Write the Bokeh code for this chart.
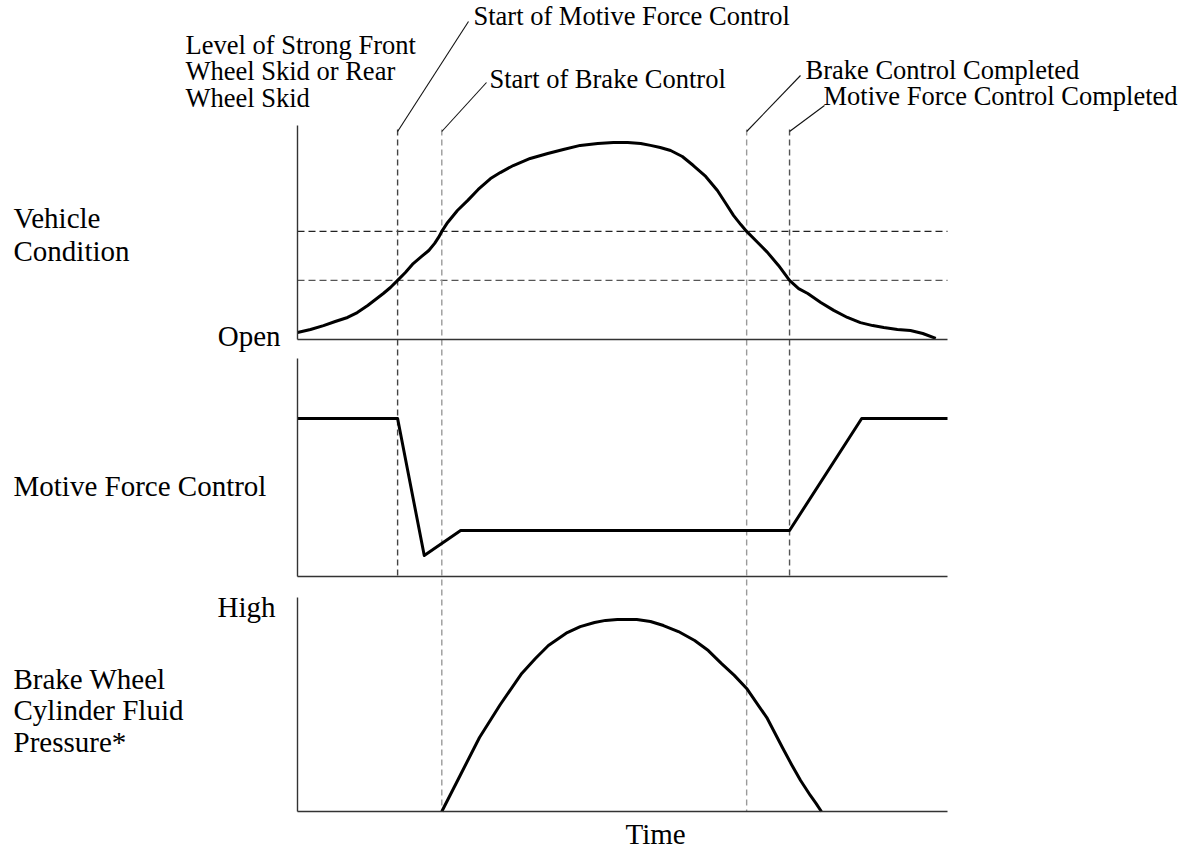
from bokeh.plotting import figure
from bokeh.models import Range1d, LinearAxis
from bokeh.core.properties import value
from bokeh.embed import file_html
from bokeh.resources import INLINE

# ---------------- data (time in % of the time axis, level in % of panel height) -------------
cond_t = [0, 2.0, 4.0, 5.8, 7.7, 9.2, 10.8, 12.0, 13.2, 14.3, 15.4, 16.6, 17.8, 19.1, 20.2,
          21.1, 21.7, 22.2, 23.1, 24.6, 26.2, 27.8, 29.7, 31.2, 33.2, 35.8, 38.5, 40.9,
          43.5, 46.2, 48.6, 50.8, 52.8, 54.3, 55.8, 57.4, 59.2, 60.9, 62.8, 64.6, 65.8,
          67.1, 68.2, 69.1, 70.8, 72.3, 74.0, 75.7, 77.1, 78.5, 80.5, 82.5, 84.6, 86.6,
          88.5, 90.2, 92.3, 94.3, 96.2, 98.2]
cond_level = [3.3, 4.7, 6.5, 8.4, 10.3, 12.6, 15.9, 18.7, 21.5, 24.3, 27.6, 31.3, 35.5,
              38.8, 41.6, 44.9, 47.7, 50.5, 54.7, 60.3, 65.0, 70.1, 75.2, 78.0, 81.3,
              84.6, 86.9, 88.8, 90.7, 91.6, 92.1, 92.1, 91.6, 90.7, 89.7, 88.3, 85.5,
              81.3, 76.2, 69.6, 64.0, 57.9, 53.7, 50.5, 45.3, 40.7, 34.6, 27.6, 23.8,
              21.5, 17.3, 13.6, 10.3, 7.9, 6.5, 5.6, 4.7, 4.2, 2.8, 0.5]
cond_thresholds = [50.5, 27.6]

mf_t = [0, 15.4, 19.5, 25.1, 75.7, 86.8, 100]
mf_level = [72.5, 72.5, 9.6, 21.1, 21.1, 72.5, 72.5]

bp_t = [22.2, 25.1, 28.0, 31.2, 34.5, 36.6, 38.6, 41.5, 43.5, 45.7, 47.4, 49.2, 50.8,
        52.2, 54.3, 56.3, 58.6, 61.1, 63.2, 65.2, 67.2, 69.1, 70.6, 72.2, 73.4, 74.6,
        76.0, 77.4, 78.9, 79.8, 80.6]
bp_level = [0, 17.3, 34.6, 50.0, 64.5, 71.5, 77.6, 83.6, 86.4, 88.3, 89.3, 89.7, 89.7,
            89.7, 88.8, 86.9, 84.1, 79.9, 75.2, 69.2, 63.6, 57.5, 50.9, 43.9, 36.9, 29.9,
            22.0, 14.5, 7.5, 3.7, 0]

event_t = [15.4, 22.2, 69.1, 75.7]
event_names = ["Start of Motive Force Control", "Start of Brake Control",
               "Brake Control Completed", "Motive Force Control Completed"]
skid_label = ["Level of Strong Front", "Wheel Skid or Rear", "Wheel Skid"]
panel_labels = [["Vehicle", "Condition"], ["Motive Force Control"],
                ["Brake Wheel", "Cylinder Fluid", "Pressure*"]]
low_label, high_label, time_label = "Open", "High", "Time"

# ---------------- layout (picture pixels) ----------------
W, H, M = 1185, 848, 0
PX0, PX1 = 297, 947
sx = (PX1 - PX0) / 100.0
panels = [(339, 125), (576, 358), (811, 597)]   # (bottom, top) picture y
FONT = value("Liberation Serif")

def yr(bottom, top):
    sy = (bottom - top) / 100.0
    return Range1d(start=(bottom - (M + H)) / sy, end=(bottom - M) / sy)

p = figure(width=W, height=H, output_backend="svg", toolbar_location=None,
           x_axis_type=None, y_axis_type=None, min_border=0,
           x_range=Range1d((M - PX0) / sx, (M + W - PX0) / sx),
           y_range=yr(*panels[0]))
p.outline_line_color = None
p.extra_y_ranges = {"p2": yr(*panels[1]), "p3": yr(*panels[2]),
                    "px": Range1d(M + H, M)}
p.extra_x_ranges = {"px": Range1d(M, M + W)}
names = ["default", "p2", "p3"]

for nm in names:
    for side in ("left", "below"):
        ax = LinearAxis(y_range_name=nm, fixed_location=0, bounds=(0, 100))
        ax.major_tick_line_color = None
        ax.minor_tick_line_color = None
        ax.major_label_text_color = None
        ax.major_label_text_font_size = "0px"
        ax.axis_line_color = "#333333"
        ax.axis_line_width = 1.4
        p.add_layout(ax, side)

# threshold dashed lines (panel 1)
p.segment(x0=0, x1=100, y0=cond_thresholds[0], y1=cond_thresholds[0],
          line_color="#222222", line_width=1.2, line_dash="7 4")
p.segment(x0=0, x1=100, y0=cond_thresholds[1], y1=cond_thresholds[1],
          line_color="#555555", line_width=1.2, line_dash="7 4")

# vertical event lines
ev_top = 129
ev_bottom = [panels[1][0], panels[2][0], panels[2][0], panels[1][0]]
ev_color = ["#444444", "#9a9a9a", "#9a9a9a", "#555555"]
for t, b, c in zip(event_t, ev_bottom, ev_color):
    p.segment(x0=t, x1=t, y0=ev_top, y1=b, y_range_name="px",
              line_color=c, line_width=1.4, line_dash="6 4")

# leader lines
lead_end = [(468, 21), (486, 82), (800, 75), (824, 105)]
for t, (ex, ey) in zip(event_t, lead_end):
    p.segment(x0=PX0 + t * sx, y0=131, x1=ex, y1=ey, x_range_name="px",
              y_range_name="px", line_color="#111111", line_width=1.1)

# curves
p.line(cond_t, cond_level, line_color="black", line_width=3, line_join="round")
p.line(mf_t, mf_level, y_range_name="p2", line_color="black", line_width=3,
       line_join="round")
p.line(bp_t, bp_level, y_range_name="p3", line_color="black", line_width=3,
       line_join="round")

def txt(x, y, s, size, align="left"):
    p.text(x=[x], y=[y], text=[s], x_range_name="px", y_range_name="px",
           text_font=FONT, text_font_size=size, text_color="black",
           text_align=align, text_baseline="alphabetic")

# event labels
ev_pos = [(473, 15), (489, 78), (805, 69), (823, 95)]
for (x, y), s in zip(ev_pos, event_names):
    txt(x, y, s, "26.5px")
for i, s in enumerate(skid_label):
    txt(185, 44 + i * 26.5, s, "26.5px")

# panel labels
lab_y0 = [217, 485, 678]
lab_dy = [33, 33, 31.5]
for lines, y0, dy in zip(panel_labels, lab_y0, lab_dy):
    for i, s in enumerate(lines):
        txt(13, y0 + i * dy, s, "29px")
txt(280, 335, low_label, "29px", "right")
txt(275, 606, high_label, "29px", "right")
txt(625, 833, time_label, "29px")

open("out.html", "w").write(file_html(p, INLINE))
